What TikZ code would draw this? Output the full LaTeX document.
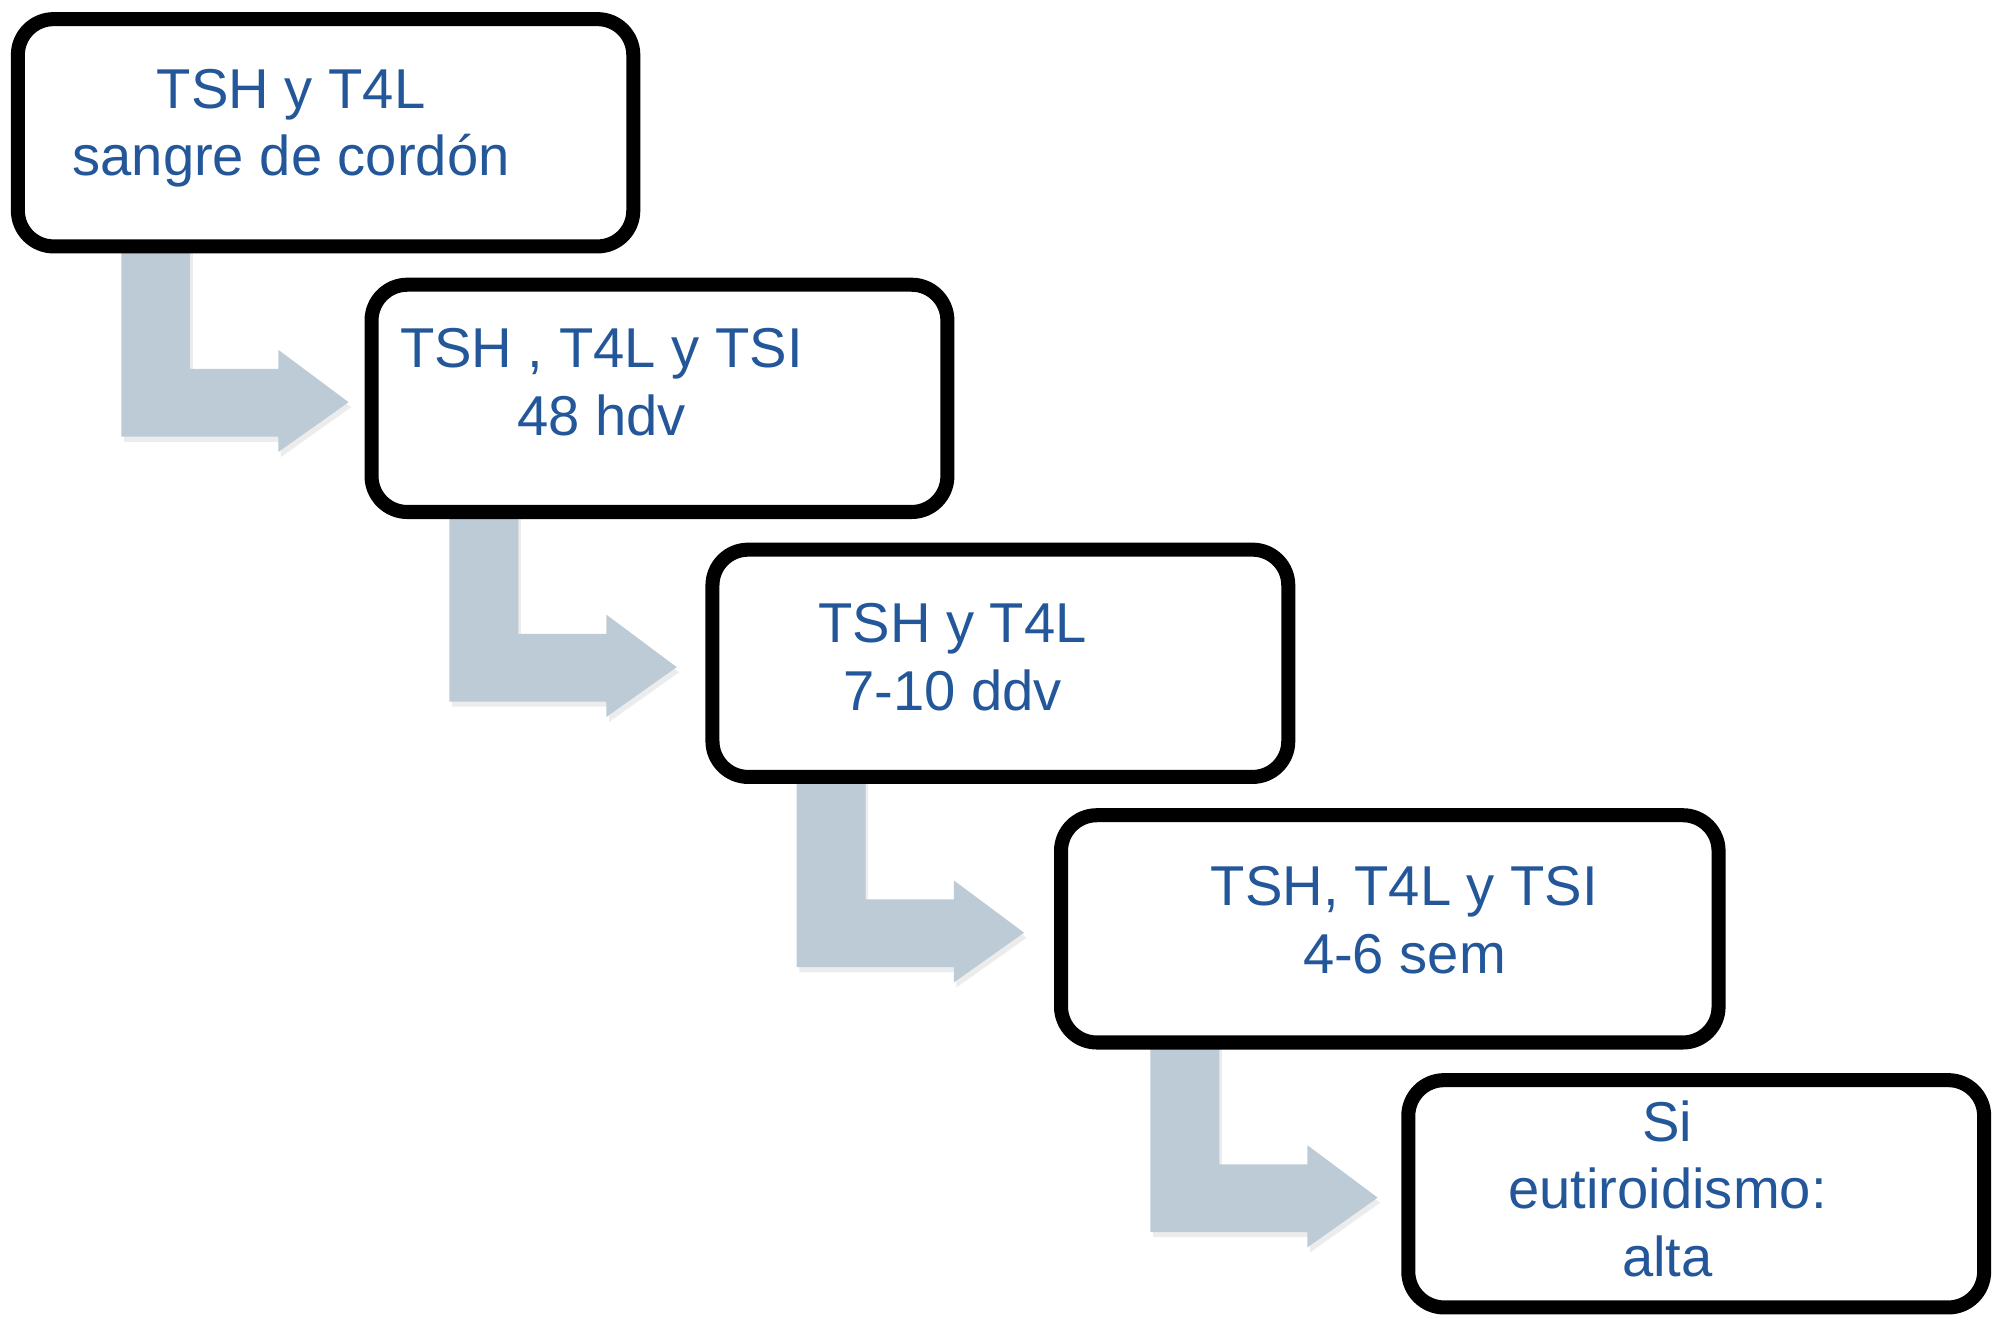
\documentclass[tikz,border=0pt]{standalone}
\usepackage{fontspec}
\setmainfont{Liberation Sans}
\usetikzlibrary{calc,shadows}
\pgfdeclarelayer{background}
\pgfsetlayers{background,main}
\definecolor{txtblue}{RGB}{35,87,153}
\definecolor{arrowfill}{RGB}{188,203,214}
\tikzset{
  stepbox/.style={draw=black, line width=11pt, rounded corners=28pt, fill=white,
    minimum height=178pt, inner sep=0pt, outer sep=0pt,
    drop shadow={opacity=0.25, shadow xshift=2pt, shadow yshift=-5pt}},
  steptext/.style={text=txtblue, align=center, inner sep=0pt,
    font=\fontsize{44}{53}\selectfont},
  elbow/.style={fill=arrowfill, drop shadow={opacity=0.15, shadow xshift=2pt, shadow yshift=-4pt}}
}
% #1 source box, #2 target box, #3 gap between arrow tip and target box
\newcommand{\elbowarrow}[3]{%
  \begin{pgfonlayer}{background}
  \path[elbow] let \p1=(#1.south), \p2=(#2.west), \p3=(\x2-#3pt,\y2-3pt) in
    (\x3-178pt,\y1) -- (\x3-124pt,\y1) -- (\x3-124pt,\y3+26pt)
    -- (\x3-55pt,\y3+26pt) -- (\x3-55pt,\y3+41pt) -- (\x3,\y3)
    -- (\x3-55pt,\y3-39pt) -- (\x3-55pt,\y3-27pt) -- (\x3-178pt,\y3-27pt) -- cycle;
  \end{pgfonlayer}}
\begin{document}
\begin{tikzpicture}[x=1pt,y=1pt]
\useasboundingbox (0,0) rectangle (1568,1050);
\node[stepbox, minimum width=482pt] (b1) at (255,946) {};
\node[stepbox, minimum width=451pt] (b2) at (516.5,738) {};
\node[stepbox, minimum width=451pt] (b3) at (783.5,530.5) {};
\node[stepbox, minimum width=515pt] (b4) at (1088.5,322.5) {};
\node[stepbox, minimum width=451pt] (b5) at (1328.5,115) {};
\node[steptext] (t1) at (228,949.5) {TSH y T4L\\sangre de cordón};
\node[steptext] (t2) at (471,750.5) {TSH , T4L y TSI\\48 hdv};
\node[steptext] (t3) at (746,535.5) {TSH y T4L\\7-10 ddv};
\node[steptext] (t4) at (1100,329.5) {TSH, T4L y TSI\\4-6 sem};
\node[steptext] (t5) at (1306,119) {Si\\eutiroidismo:\\alta};
\elbowarrow{b1}{b2}{18}
\elbowarrow{b2}{b3}{28}
\elbowarrow{b3}{b4}{29}
\elbowarrow{b4}{b5}{24}
\end{tikzpicture}
\end{document}
